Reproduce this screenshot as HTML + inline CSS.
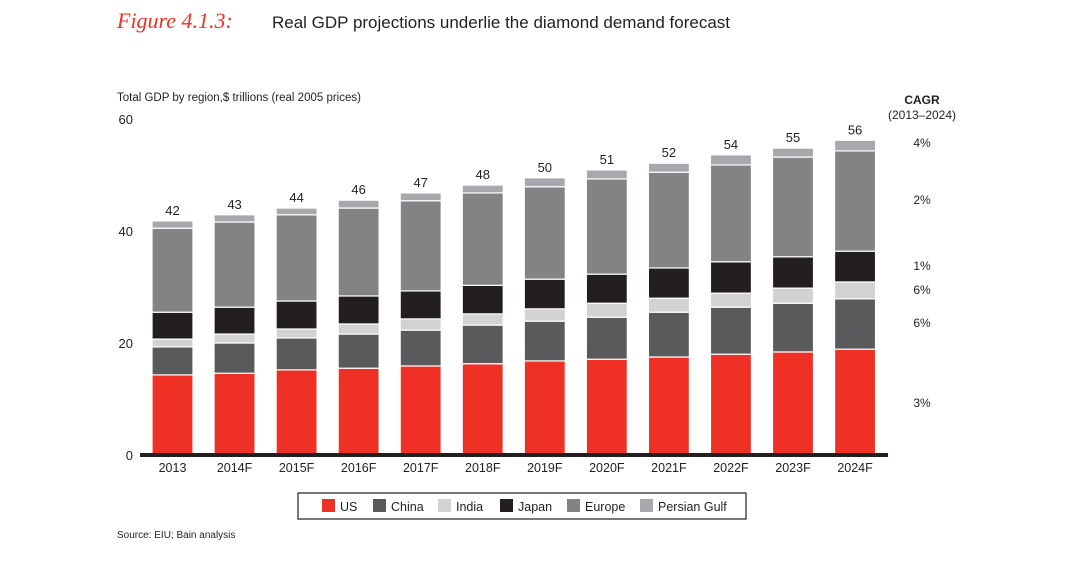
<!DOCTYPE html>
<html><head><meta charset="utf-8"><style>
body{margin:0;background:#fff;width:1085px;height:557px;overflow:hidden;font-family:"Liberation Sans",sans-serif;}
svg text{font-family:"Liberation Sans",sans-serif;fill:#231f20;}
</style></head><body>
<svg id="chart" width="1085" height="557">
<text x="117" y="28" style="font-family:'Liberation Serif',serif;font-style:italic;fill:#ee3124;font-size:22px">Figure 4.1.3:</text>
<text x="272" y="28" font-size="17">Real GDP projections underlie the diamond demand forecast</text>
<text x="117" y="101" font-size="11.5">Total GDP by region,$ trillions (real 2005 prices)</text>
<text x="922" y="104" font-size="12" font-weight="bold" text-anchor="middle">CAGR</text>
<text x="922" y="119" font-size="12" text-anchor="middle">(2013–2024)</text>
<text x="117" y="538" font-size="10">Source: EIU; Bain analysis</text>
<g id="plot"></g>
<rect x="298" y="493" width="448" height="26" fill="none" stroke="#231f20" stroke-width="1.2"/>
<g id="legend"></g>
</svg>
<script>
const categories=["2013","2014F","2015F","2016F","2017F","2018F","2019F","2020F","2021F","2022F","2023F","2024F"];
const usValues=[14.3,14.6,15.2,15.5,15.9,16.3,16.8,17.1,17.5,18.0,18.4,18.9];
const chinaValues=[5.0,5.4,5.7,6.1,6.4,6.9,7.1,7.5,8.0,8.4,8.7,9.0];
const indiaValues=[1.4,1.6,1.6,1.8,2.0,2.0,2.2,2.5,2.5,2.5,2.7,3.0];
const japanValues=[4.8,4.8,5.0,5.0,5.0,5.1,5.3,5.2,5.4,5.6,5.6,5.5];
const europeValues=[15.0,15.2,15.4,15.7,16.1,16.5,16.5,17.0,17.1,17.3,17.8,17.9];
const gulfValues=[1.3,1.3,1.2,1.4,1.4,1.4,1.6,1.6,1.6,1.8,1.6,1.9];
const totalLabels=["42","43","44","46","47","48","50","51","52","54","55","56"];
const yTicks=[0,20,40,60];
const seriesNames=["US","China","India","Japan","Europe","Persian Gulf"];
const cagrLabels=["3%","6%","6%","1%","2%","4%"];
const NS="http://www.w3.org/2000/svg";
const colors=["#ee3124","#5a5a5c","#d1d2d4","#231f20","#828385","#a7a8ab"];
const series=[usValues,chinaValues,indiaValues,japanValues,europeValues,gulfValues];
const y0=455,k=5.6;
function yS(v){return y0-v*k;}
function xS(i){return 172.5+i*62.05;}
const plot=document.getElementById('plot');
function mk(tag,attrs,parent){const e=document.createElementNS(NS,tag);for(const a in attrs)e.setAttribute(a,attrs[a]);(parent||plot).appendChild(e);return e;}
yTicks.forEach(t=>{const e=mk('text',{x:133,y:yS(t)+5,'font-size':13,'text-anchor':'end'});e.textContent=t;

});
const bw=41;
categories.forEach((c,i)=>{let cum=0;
 series.forEach((s,j)=>{const v=s[i];const r=mk('rect',{x:xS(i)-bw/2,y:yS(cum+v),width:bw,height:v*k,fill:colors[j],stroke:'#fff','stroke-width':1.2});
 
 cum+=v;});
 const t=mk('text',{x:xS(i),y:yS(cum)-6,'font-size':13,'text-anchor':'middle'});t.textContent=totalLabels[i];
 
 
 const xl=mk('text',{x:xS(i),y:472,'font-size':12.5,'text-anchor':'middle'});xl.textContent=c;
 
 });
const ax=mk('rect',{x:140,y:453,width:748,height:4,fill:'#231f20'});


// CAGR labels positioned at middle of last bar segments
let cum=0;
series.forEach((s,j)=>{const v=s[categories.length-1];const mid=cum+v/2;cum+=v;
 let yy=yS(mid)+4; if(j==1)yy=327; if(j==2)yy=294; if(j==3)yy=270; if(j==0)yy=407; if(j==4)yy=204; if(j==5)yy=147;
 const t=mk('text',{x:922,y:yy,'font-size':12,'text-anchor':'middle'});t.textContent=cagrLabels[j];
 
 });
const leg=document.getElementById('legend');
const lx=[322,373,438,500,567,640];
seriesNames.forEach((n,j)=>{const r=mk('rect',{x:lx[j],y:499,width:13,height:13,fill:colors[j]},leg);
 
 
 const t=mk('text',{x:lx[j]+18,y:511,'font-size':12.5},leg);t.textContent=n;
 
 });
</script>
</body></html>
